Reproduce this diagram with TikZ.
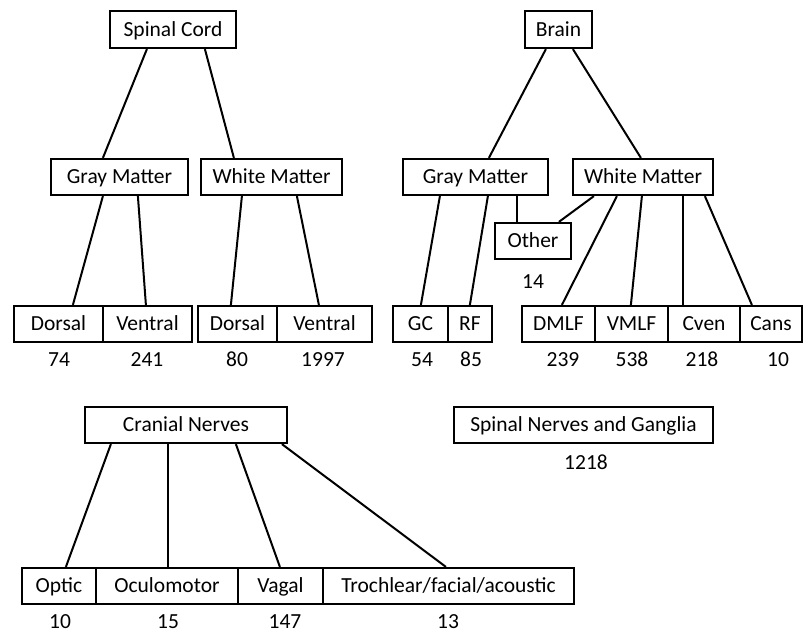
\documentclass[tikz,border=0pt]{standalone}
\usepackage{fontspec}
\setmainfont{Carlito}
\begin{document}
\begin{tikzpicture}[x=1pt,y=-1pt,
  box/.style={draw=black, line width=2.2pt, inner sep=0pt, minimum height=36pt, font=\fontsize{21.5}{25}\selectfont, text=black, text height=13.8pt, text depth=0pt},
  num/.style={inner sep=0pt, font=\fontsize{21.5}{25}\selectfont, text=black, text height=13.8pt, text depth=0pt},
  link/.style={draw=black, line width=2pt}]
\useasboundingbox (0,0) rectangle (804,633);
% Spinal cord tree
\node[box, minimum width=126pt, minimum height=37pt] (sc) at (173,29.5) {Spinal Cord};
\node[box, minimum width=137pt] (gm1) at (119.5,177) {Gray Matter};
\node[box, minimum width=141pt] (wm1) at (271.5,177) {White Matter};
\node[box, minimum width=89pt] (d1) at (58.5,324) {Dorsal};
\node[box, minimum width=89pt] (v1) at (147.5,324) {Ventral};
\node[box, minimum width=79pt] (d2) at (237.5,324) {Dorsal};
\node[box, minimum width=95pt] (v2) at (324.5,324) {Ventral};
\node[num] (n74) at (59,360) {74};
\node[num] (n241) at (147,360) {241};
\node[num] (n80) at (237,360) {80};
\node[num] (n1997) at (323,360) {1997};
% Brain tree
\node[box, minimum width=67pt, minimum height=37pt] (brain) at (558.5,29.5) {Brain};
\node[box, minimum width=145pt] (gm2) at (475.5,177) {Gray Matter};
\node[box, minimum width=140pt] (wm2) at (643,177) {White Matter};
\node[box, minimum width=76pt] (other) at (533,241) {Other};
\node[num] (n14) at (533,282) {14};
\node[box, minimum width=55pt] (gc) at (420.5,324) {GC};
\node[box, minimum width=44pt] (rf) at (470,324) {RF};
\node[box, minimum width=73pt] (dmlf) at (558.5,324) {DMLF};
\node[box, minimum width=73pt] (vmlf) at (631.5,324) {VMLF};
\node[box, minimum width=72pt] (cven) at (704,324) {Cven};
\node[box, minimum width=62pt] (cans) at (771,324) {Cans};
\node[num] (n54) at (422,360) {54};
\node[num] (n85) at (471,360) {85};
\node[num] (n239) at (563,360) {239};
\node[num] (n538) at (632,360) {538};
\node[num] (n218) at (702,360) {218};
\node[num] (n10a) at (778,360) {10};
% Cranial nerves
\node[box, minimum width=202pt] (cn) at (186,425) {Cranial Nerves};
\node[box, minimum width=74pt] (optic) at (59,586) {Optic};
\node[box, minimum width=142pt] (ocu) at (167,586) {Oculomotor};
\node[box, minimum width=85pt] (vagal) at (280.5,586) {Vagal};
\node[box, minimum width=251pt] (troch) at (448.5,586) {Trochlear/facial/acoustic};
\node[num] (n10b) at (60,622) {10};
\node[num] (n15) at (168,622) {15};
\node[num] (n147) at (285,622) {147};
\node[num] (n13) at (448,622) {13};
% Spinal nerves
\node[box, minimum width=259pt] (sng) at (583.5,425) {Spinal Nerves and Ganglia};
\node[num] (n1218) at (586,463) {1218};
% connectors
\draw[link] ([xshift=38pt]sc.south west) -- ([xshift=53pt]gm1.north west);
\draw[link] ([xshift=96pt]sc.south west) -- ([xshift=34pt]wm1.north west);
\draw[link] ([xshift=53pt]gm1.south west) -- ([xshift=60pt]d1.north west);
\draw[link] ([xshift=88pt]gm1.south west) -- ([xshift=44pt]v1.north west);
\draw[link] ([xshift=42pt]wm1.south west) -- ([xshift=34pt]d2.north west);
\draw[link] ([xshift=97pt]wm1.south west) -- ([xshift=43pt]v2.north west);
\draw[link] ([xshift=22pt]brain.south west) -- ([xshift=87pt]gm2.north west);
\draw[link] ([xshift=49pt]brain.south west) -- ([xshift=69pt]wm2.north west);
\draw[link] ([xshift=38pt]gm2.south west) -- ([xshift=29pt]gc.north west);
\draw[link] ([xshift=86pt]gm2.south west) -- ([xshift=23pt]rf.north west);
\draw[link] ([xshift=115pt]gm2.south west) -- ([xshift=23pt]other.north west);
\draw[link] ([xshift=22pt]wm2.south west) -- ([xshift=65pt]other.north west);
\draw[link] ([xshift=45pt]wm2.south west) -- ([xshift=41pt]dmlf.north west);
\draw[link] ([xshift=70pt]wm2.south west) -- ([xshift=37pt]vmlf.north west);
\draw[link] ([xshift=111pt]wm2.south west) -- ([xshift=16pt]cven.north west);
\draw[link] ([xshift=133pt]wm2.south west) -- ([xshift=13pt]cans.north west);
\draw[link] ([xshift=27pt]cn.south west) -- ([xshift=45pt]optic.north west);
\draw[link] ([xshift=84pt]cn.south west) -- ([xshift=73pt]ocu.north west);
\draw[link] ([xshift=152pt]cn.south west) -- ([xshift=43pt]vagal.north west);
\draw[link] ([xshift=198pt]cn.south west) -- ([xshift=124pt]troch.north west);
\end{tikzpicture}
\end{document}
